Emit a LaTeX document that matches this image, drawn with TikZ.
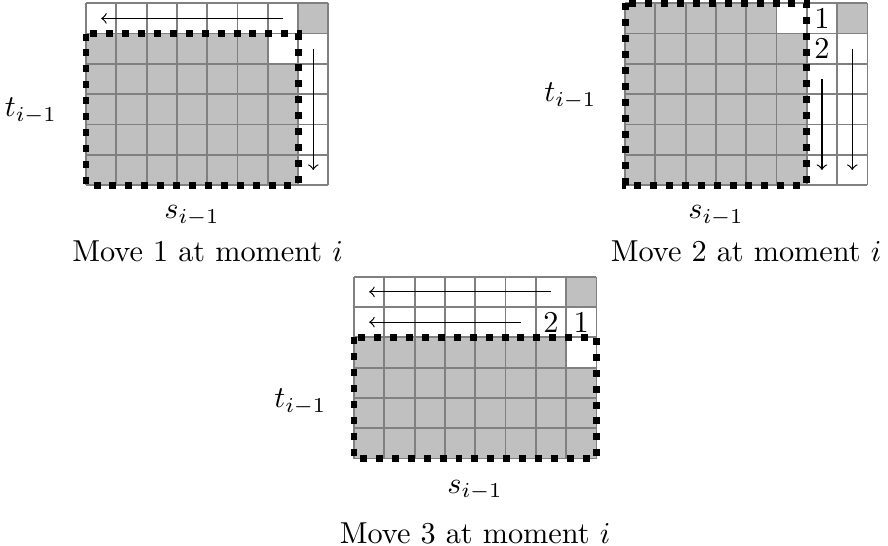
\documentclass[tikz,border=0pt]{standalone}
\usetikzlibrary{arrows}
\definecolor{cellgray}{RGB}{192,192,192}
\definecolor{linegray}{RGB}{128,128,128}
\tikzset{
  cellfill/.style={fill=cellgray, draw=none},
  whitefill/.style={fill=white, draw=none},
  gridlines/.style={draw=linegray, line width=0.6pt},
  regionbox/.style={draw=black, line width=2.3pt, dash pattern=on 2.3pt off 2.95pt},
  moveline/.style={draw=black, line width=0.4pt, ->},
  numlabel/.style={inner sep=0pt},
  axislabel/.style={inner sep=0pt},
  caption/.style={inner sep=0pt, anchor=base}
}
\newcommand{\cellgrid}{%
  \foreach \gi in {0,...,8} {\draw[gridlines] (\gi,0) -- (\gi,6);}
  \foreach \gj in {0,...,6} {\draw[gridlines] (0,\gj) -- (8,\gj);}
}
\begin{document}
\begin{tikzpicture}[x=0.33003pt, y=-0.33003pt]
\useasboundingbox (0,0) rectangle (888,546);

% ---------- Move 1 ----------
\begin{scope}[shift={(86,3.3)}]
\begin{scope}[x=10pt, y=-10pt]
  \fill[cellfill] (0,1) rectangle (7,6);
  \fill[whitefill] (6,1) rectangle (7,2);
  \fill[cellfill] (7,0) rectangle (8,1);
  \cellgrid
  \draw[regionbox] (0,1) rectangle (7,6);
  \coordinate (a1s) at (6.5,0.5); \coordinate (a1e) at (0.5,0.5);
  \coordinate (b1s) at (7.5,1.5); \coordinate (b1e) at (7.5,5.5);
  \draw[moveline] (a1s) -- (a1e);
  \draw[moveline] (b1s) -- (b1e);
\end{scope}
\end{scope}
\node[axislabel, anchor=base east] (t1) at (57.5,117) {$t_{i-1}$};
\node[axislabel, anchor=base] (s1) at (192,219) {$s_{i-1}$};
\node[caption] (c1) at (207.5,262) {Move 1 at moment $i$};

% ---------- Move 2 ----------
\begin{scope}[shift={(625,3.3)}]
\begin{scope}[x=10pt, y=-10pt]
  \fill[cellfill] (0,0) rectangle (6,6);
  \fill[whitefill] (5,0) rectangle (6,1);
  \fill[cellfill] (7,0) rectangle (8,1);
  \cellgrid
  \draw[regionbox] (0,0) rectangle (6,6);
  \coordinate (a2s) at (6.5,2.5); \coordinate (a2e) at (6.5,5.5);
  \coordinate (b2s) at (7.5,1.5); \coordinate (b2e) at (7.5,5.5);
  \draw[moveline] (a2s) -- (a2e);
  \draw[moveline] (b2s) -- (b2e);
  \node[numlabel] (n21) at (6.5,0.5) {1};
  \node[numlabel] (n22) at (6.5,1.5) {2};
\end{scope}
\end{scope}
\node[axislabel, anchor=base east] (t2) at (597,101.7) {$t_{i-1}$};
\node[axislabel, anchor=base] (s2) at (716,219) {$s_{i-1}$};
\node[caption] (c2) at (746,262) {Move 2 at moment $i$};

% ---------- Move 3 ----------
\begin{scope}[shift={(354,276.7)}]
\begin{scope}[x=10pt, y=-10pt]
  \fill[cellfill] (0,2) rectangle (8,6);
  \fill[whitefill] (7,2) rectangle (8,3);
  \fill[cellfill] (7,0) rectangle (8,1);
  \cellgrid
  \draw[regionbox] (0,2) rectangle (8,6);
  \coordinate (a3s) at (6.5,0.5); \coordinate (a3e) at (0.5,0.5);
  \coordinate (b3s) at (5.5,1.5); \coordinate (b3e) at (0.5,1.5);
  \draw[moveline] (a3s) -- (a3e);
  \draw[moveline] (b3s) -- (b3e);
  \node[numlabel] (n32) at (6.5,1.5) {2};
  \node[numlabel] (n31) at (7.5,1.5) {1};
\end{scope}
\end{scope}
\node[axislabel, anchor=base east] (t3) at (327,408) {$t_{i-1}$};
\node[axislabel, anchor=base] (s3) at (475,493) {$s_{i-1}$};
\node[caption] (c3) at (475,543) {Move 3 at moment $i$};
\end{tikzpicture}
\end{document}
